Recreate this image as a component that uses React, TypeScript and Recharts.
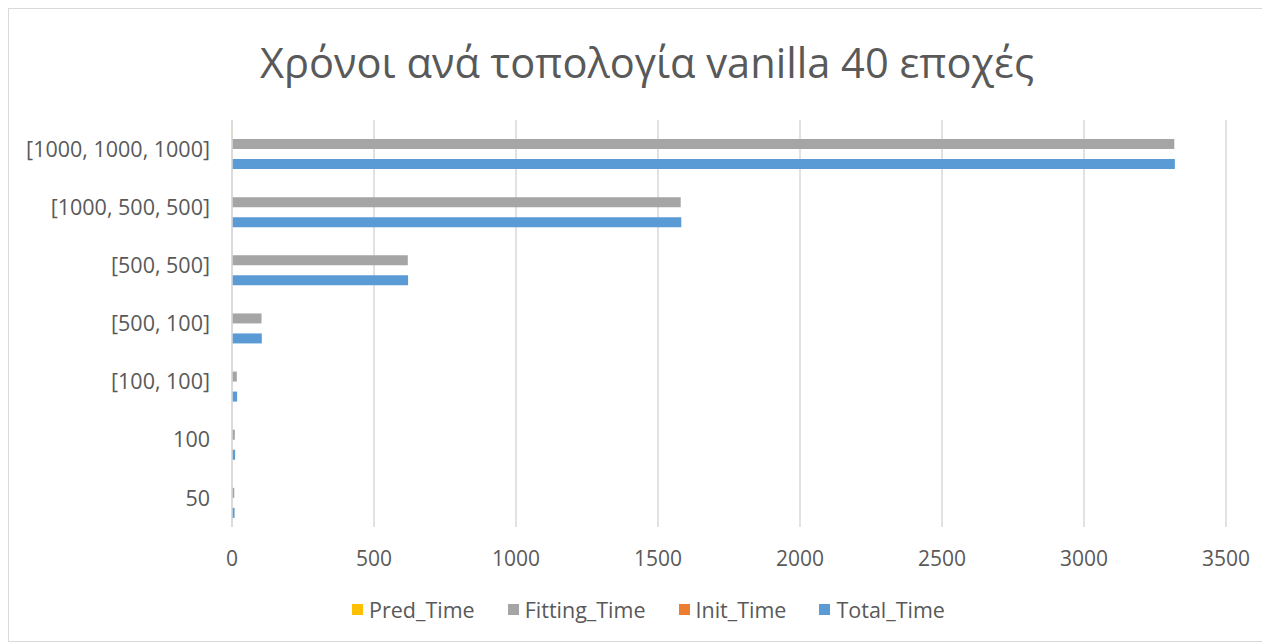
import { Bar, BarChart, CartesianGrid, Legend, XAxis, YAxis } from "recharts"

// categories from top to bottom, as in the picture
const topologies = ["[1000, 1000, 1000]", "[1000, 500, 500]", "[500, 500]", "[500, 100]", "[100, 100]", "100", "50"]
const predTime = [0.6, 0.5, 0.4, 0.3, 0.2, 0.2, 0.2]
const fittingTime = [3318, 1580, 619, 104, 17, 10, 8]
const initTime = [0.1, 0.1, 0.1, 0.1, 0.1, 0.1, 0.1]
const totalTime = [3320, 1582, 620, 105, 18, 11, 9]
const xTicks = [0, 500, 1000, 1500, 2000, 2500, 3000, 3500]

const series = [
  { key: "Pred_Time", color: "#ffc000" },
  { key: "Fitting_Time", color: "#a5a5a5" },
  { key: "Init_Time", color: "#ed7d31" },
  { key: "Total_Time", color: "#5b9bd5" },
]

const data = topologies.map((name, i) => ({
  name,
  Pred_Time: predTime[i],
  Fitting_Time: fittingTime[i],
  Init_Time: initTime[i],
  Total_Time: totalTime[i],
}))

const font = "'Open Sans', sans-serif"
const textColor = "#595959"

function LegendContent() {
  return (
    <div
      style={{
        display: "flex",
        justifyContent: "center",
        gap: 33,
        paddingLeft: 62,
        fontFamily: font,
        fontSize: 21.5,
        color: textColor,
      }}
    >
      {series.map((s) => (
        <div key={s.key} style={{ display: "flex", alignItems: "center", gap: 6 }}>
          <span style={{ width: 11, height: 11, background: s.color, display: "inline-block" }} />
          <span>{s.key}</span>
        </div>
      ))}
    </div>
  )
}

export default function App() {
  return (
    <div style={{ position: "relative", width: 1260, height: 632, border: "1px solid #d9d9d9", background: "#fff" }}>
      <div
        style={{
          position: "absolute",
          top: 25,
          left: 8,
          width: "100%",
          textAlign: "center",
          fontFamily: font,
          fontSize: 41.6,
          color: textColor,
        }}
      >
        Χρόνοι ανά τοπολογία vanilla 40 εποχές
      </div>
      <BarChart
        width={1260}
        height={632}
        data={data}
        layout="vertical"
        margin={{ top: 111, right: 43, bottom: 17, left: 0 }}
        barSize={10}
        barGap={0}
      >
        <CartesianGrid horizontal={false} stroke="#d9d9d9" strokeWidth={1.5} />
        <XAxis
          type="number"
          domain={[0, 3500]}
          ticks={xTicks}
          axisLine={false}
          tickLine={false}
          tickSize={0}
          tickMargin={24}
          height={68}
          tick={{ fill: textColor, fontSize: 21, fontFamily: font }}
        />
        <YAxis
          type="category"
          dataKey="name"
          width={223}
          axisLine={{ stroke: "#d9d9d9", strokeWidth: 1.5 }}
          tickLine={false}
          tickSize={0}
          tickMargin={22}
          tick={{ fill: textColor, fontSize: 21.5, fontFamily: font }}
        />
        <Legend verticalAlign="bottom" content={<LegendContent />} />
        {series.map((s) => (
          <Bar key={s.key} dataKey={s.key} fill={s.color} isAnimationActive={false} />
        ))}
      </BarChart>
    </div>
  )
}
